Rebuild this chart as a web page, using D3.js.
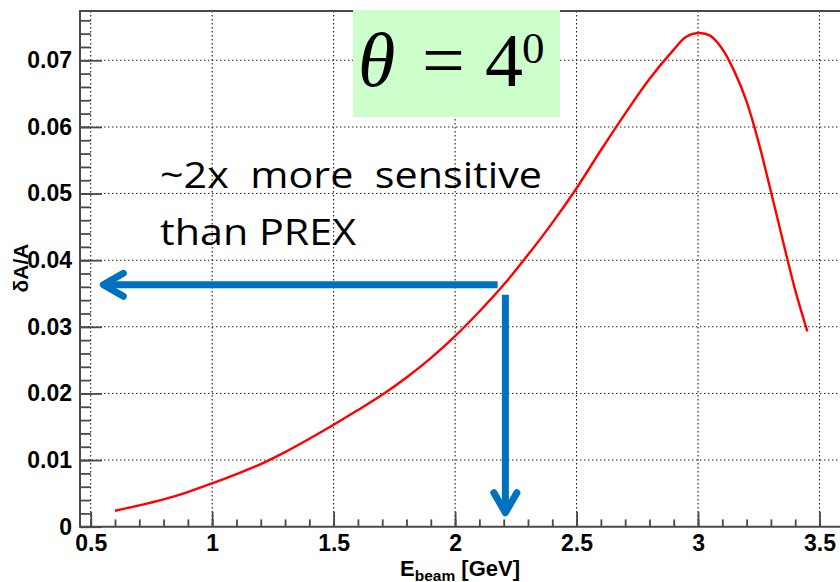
<!DOCTYPE html>
<html>
<head>
<meta charset="utf-8">
<script src="https://cdn.jsdelivr.net/npm/d3@7/dist/d3.min.js"></script>
<style>
  html, body { margin: 0; padding: 0; background: #fff; }
  svg { display: block; }
</style>
</head>
<body>
<svg id="chart" width="840" height="582"></svg>
<script>
// ---- data ----
const energy = [0.6, 0.7, 0.8, 0.9, 1.0, 1.1, 1.2, 1.3, 1.4, 1.5, 1.6, 1.7, 1.8, 1.9, 2.0,
                2.1, 2.2, 2.3, 2.4, 2.5, 2.6, 2.7, 2.8, 2.9, 2.95, 3.0, 3.05, 3.1, 3.15,
                3.2, 3.25, 3.3, 3.35, 3.4, 3.45];
const dAoverA = [0.0024, 0.0032, 0.0041, 0.0052, 0.0065, 0.0079, 0.0094, 0.0112, 0.0132, 0.0153,
                 0.0175, 0.0198, 0.0224, 0.0253, 0.0286, 0.0323, 0.0363, 0.0408, 0.0456, 0.0508,
                 0.0565, 0.0620, 0.0672, 0.0716, 0.0735, 0.0741, 0.0737, 0.0717, 0.0683,
                 0.0638, 0.0576, 0.0503, 0.0428, 0.0355, 0.0293];
const xMajorTicks = [0.5, 1, 1.5, 2, 2.5, 3, 3.5];
const xTickLabels = ["0.5", "1", "1.5", "2", "2.5", "3", "3.5"];
const yMajorTicks = [0, 0.01, 0.02, 0.03, 0.04, 0.05, 0.06, 0.07];
const yTickLabels = ["0", "0.01", "0.02", "0.03", "0.04", "0.05", "0.06", "0.07"];
const xMinorTicks = d3.range(5, 36).map(d => d / 10);
const yMinorTicks = d3.range(0, 39).map(d => d * 0.002);
// annotation arrows (data coordinates)
const arrowH = { y: 0.0363, xFrom: 2.175, xTo: 0.552 };
const arrowV = { x: 2.207, yFrom: 0.0348, yTo: 0.0021 };
const noteLines = ["~2x  more  sensitive", "than PREX"];

// ---- layout ----
const frame = { left: 80, top: 11, bottom: 526.7, right: 852 };
const x = d3.scaleLinear().domain([0.5, 3.5]).range([90.7, 819.5]);
const y = d3.scaleLinear().domain([0, 0.0774]).range([526.7, 11]);

const svg = d3.select("#chart");
const axisColor = "#4a4a4a";
const labelFont = "'Liberation Sans', Arial, Helvetica, sans-serif";

// grid
const grid = svg.append("g").attr("class", "grid")
  .attr("stroke", "#1a1a1a").attr("stroke-width", 1.1).attr("stroke-dasharray", "1.4,2.6");
grid.selectAll("line.gx").data(xMajorTicks).join("line")
  .attr("x1", d => x(d)).attr("x2", d => x(d))
  .attr("y1", frame.top).attr("y2", frame.bottom);
grid.selectAll("line.gy").data(yMajorTicks.filter(d => d > 0)).join("line")
  .attr("x1", frame.left).attr("x2", frame.right)
  .attr("y1", d => y(d)).attr("y2", d => y(d));

// curve
svg.append("path")
  .datum(energy.map((e, i) => [e, dAoverA[i]]))
  .attr("fill", "none").attr("stroke", "#ff0000").attr("stroke-width", 2.4)
  .attr("stroke-linejoin", "round")
  .attr("d", d3.line().x(d => x(d[0])).y(d => y(d[1])).curve(d3.curveCatmullRom.alpha(0.5)));

// axes
const gx = svg.append("g").attr("transform", `translate(0,${frame.bottom})`);
gx.append("g").call(d3.axisBottom(x).tickValues(xMinorTicks).tickSize(-7.3).tickFormat(""))
  .call(g => g.select(".domain").remove());
gx.append("g").call(d3.axisBottom(x).tickValues(xMajorTicks).tickSize(-15).tickPadding(8)
    .tickFormat((d, i) => xTickLabels[i]))
  .call(g => g.select(".domain").remove());
gx.selectAll("line").attr("stroke", axisColor).attr("stroke-width", 1.8);
gx.selectAll("text").attr("font-family", labelFont).attr("font-size", 23)
  .attr("font-weight", "bold").attr("fill", "#000");

const gy = svg.append("g").attr("transform", `translate(${frame.left},0)`);
gy.append("g").call(d3.axisLeft(y).tickValues(yMinorTicks).tickSize(-10.7).tickFormat(""))
  .call(g => g.select(".domain").remove());
gy.append("g").call(d3.axisLeft(y).tickValues(yMajorTicks).tickSize(-22).tickPadding(8)
    .tickFormat((d, i) => yTickLabels[i]))
  .call(g => g.select(".domain").remove());
gy.selectAll("line").attr("stroke", axisColor).attr("stroke-width", 1.8);
gy.selectAll("text").attr("font-family", labelFont).attr("font-size", 23)
  .attr("font-weight", "bold").attr("fill", "#000");

// frame lines
svg.append("line").attr("x1", frame.left).attr("x2", frame.right)
  .attr("y1", frame.top).attr("y2", frame.top).attr("stroke", axisColor).attr("stroke-width", 2);
svg.append("line").attr("x1", frame.left).attr("x2", frame.left)
  .attr("y1", frame.top - 1).attr("y2", frame.bottom + 1).attr("stroke", axisColor).attr("stroke-width", 2);
svg.append("line").attr("x1", frame.left).attr("x2", frame.right)
  .attr("y1", frame.bottom).attr("y2", frame.bottom).attr("stroke", axisColor).attr("stroke-width", 2);

// axis titles
svg.append("text")
  .attr("transform", "translate(28,268) rotate(-90)")
  .attr("text-anchor", "middle")
  .attr("font-family", labelFont).attr("font-size", 21).attr("font-weight", "bold")
  .text("δA/A");

const xt = svg.append("text").attr("x", 400).attr("y", 576)
  .attr("font-family", labelFont).attr("font-weight", "bold").attr("font-size", 22);
xt.append("tspan").text("E");
xt.append("tspan").attr("font-size", 15.5).attr("dy", 4.5).text("beam");
xt.append("tspan").attr("dy", -4.5).text(" [GeV]");

// title box
svg.append("rect").attr("x", 353).attr("y", 10).attr("width", 207).attr("height", 107)
  .attr("fill", "#ccffcc");
const serif = "'Liberation Serif', 'Times New Roman', serif";
svg.append("text").attr("x", 358).attr("y", 86).attr("font-family", serif)
  .attr("font-style", "italic").attr("font-size", 76).text("θ");
svg.append("text").attr("x", 422).attr("y", 86).attr("font-family", serif)
  .attr("font-size", 76).text("=");
svg.append("text").attr("x", 485).attr("y", 86).attr("font-family", serif)
  .attr("font-size", 76).text("4");
svg.append("text").attr("x", 522).attr("y", 63).attr("font-family", serif)
  .attr("font-size", 45).text("0");

// note text
const noteFont = "'Open Sans', 'Noto Sans', sans-serif";
svg.append("text").attr("x", 160).attr("y", 188).attr("font-family", noteFont)
  .attr("font-size", 36).style("white-space", "pre")
  .attr("textLength", 382).attr("lengthAdjust", "spacingAndGlyphs").text(noteLines[0]);
svg.append("text").attr("x", 160).attr("y", 245).attr("font-family", noteFont)
  .attr("font-size", 36).style("white-space", "pre")
  .attr("textLength", 196).attr("lengthAdjust", "spacingAndGlyphs").text(noteLines[1]);

// arrows
const blue = "#0070c0";
const ag = svg.append("g").attr("stroke", blue).attr("fill", "none").attr("stroke-width", 7);
const hy = y(arrowH.y), hx0 = x(arrowH.xFrom), hx1 = x(arrowH.xTo);
ag.append("line").attr("x1", hx0).attr("x2", hx1 + 2).attr("y1", hy).attr("y2", hy);
ag.append("path").attr("stroke-linecap", "round").attr("stroke-linejoin", "round")
  .attr("d", `M${hx1 + 20},${hy - 11.5}L${hx1},${hy}L${hx1 + 20},${hy + 11.5}`);
const vx = x(arrowV.x), vy0 = y(arrowV.yFrom), vy1 = y(arrowV.yTo);
ag.append("line").attr("x1", vx).attr("x2", vx).attr("y1", vy0).attr("y2", vy1 - 2);
ag.append("path").attr("stroke-linecap", "round").attr("stroke-linejoin", "round")
  .attr("d", `M${vx - 11.5},${vy1 - 20}L${vx},${vy1}L${vx + 11.5},${vy1 - 20}`);
</script>
</body>
</html>
